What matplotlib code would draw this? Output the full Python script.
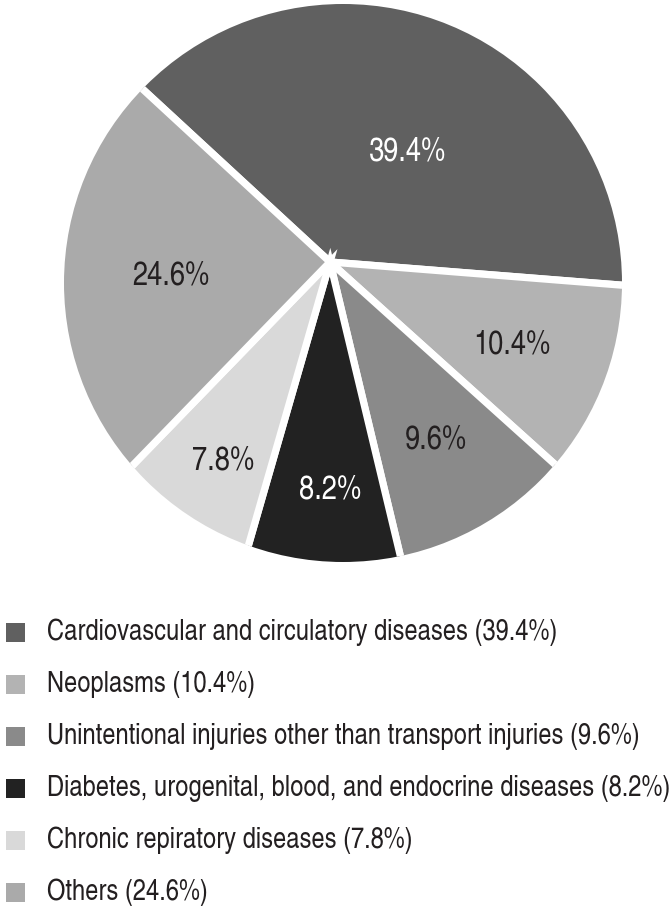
import matplotlib
matplotlib.use("Agg")
import matplotlib.pyplot as plt
from matplotlib.patches import Circle, Rectangle
from matplotlib import font_manager as fm

# ---- data ----
categories = [
    "Cardiovascular and circulatory diseases",
    "Neoplasms",
    "Unintentional injuries other than transport injuries",
    "Diabetes, urogenital, blood, and endocrine diseases",
    "Chronic repiratory diseases",
    "Others",
]
values = [39.4, 10.4, 9.6, 8.2, 7.8, 24.6]
colors = ["#606060", "#b3b3b3", "#8a8a8a", "#222222", "#d9d9d9", "#aaaaaa"]
label_colors = ["white", "#231f20", "#231f20", "white", "#231f20", "#231f20"]

# ---- layout (pixel coordinates, y up) ----
W, H = 671, 911
label_pos = [(407, 911 - 152), (512, 911 - 345), (436, 911 - 440),
             (330, 911 - 490), (223, 911 - 461), (171, 911 - 276)]
apex = (330, 911 - 262)
rim_center = (343, 911 - 283)
rim_radius = 279

# pick a condensed font
prefs = ["texgyreheroscn-regular", "LiberationSansNarrow-Regular", "RobotoCondensed-Regular",
         "DejaVuSansCondensed.ttf", "Roboto-Regular"]
fpath = None
allf = [f.fname for f in fm.fontManager.ttflist]
for p in prefs:
    hits = [f for f in allf if p in f.split("/")[-1]]
    if hits:
        fpath = hits[0]
        break

def fp(size):
    if fpath:
        return fm.FontProperties(fname=fpath, size=size)
    return fm.FontProperties(family="DejaVu Sans", size=size)

fig = plt.figure(figsize=(W / 100, H / 100), dpi=100)
ax = fig.add_axes([0, 0, 1, 1])

wedges, _ = ax.pie(values, colors=colors, startangle=137.3, counterclock=False,
                   center=apex, radius=320,
                   wedgeprops=dict(edgecolor="white", linewidth=5.2))
ax.set_xlim(0, W)
ax.set_ylim(0, H)
ax.set_aspect("equal")
ax.axis("off")
clip = Circle(rim_center, rim_radius, transform=ax.transData)
for w in wedges:
    w.set_clip_on(True)
    w.set_clip_path(clip)

for v, (x, y), c in zip(values, label_pos, label_colors):
    ax.text(x, y, f"{v}%", ha="center", va="center", fontproperties=fp(24), color=c)

# legend
y0, dy = 911 - 632, 52
leg_texts = []
for i, (cat, v, col) in enumerate(zip(categories, values, colors)):
    y = y0 - i * dy
    ax.add_patch(Rectangle((6, y - 9.5), 19, 19, facecolor=col, edgecolor="none"))
    t = ax.text(47, y, f"{cat} ({v}%)", ha="left", va="center",
                fontproperties=fp(19), color="#231f20")
    leg_texts.append(t)

# size the legend so its longest line spans the width it has in the reference
fig.canvas.draw()
r = fig.canvas.get_renderer()
maxw = max(t.get_window_extent(r).width for t in leg_texts)
s = min(19 * 622.0 / maxw, 22)
for t in leg_texts:
    t.set_fontsize(s)

fig.savefig("out.png", dpi=100)
